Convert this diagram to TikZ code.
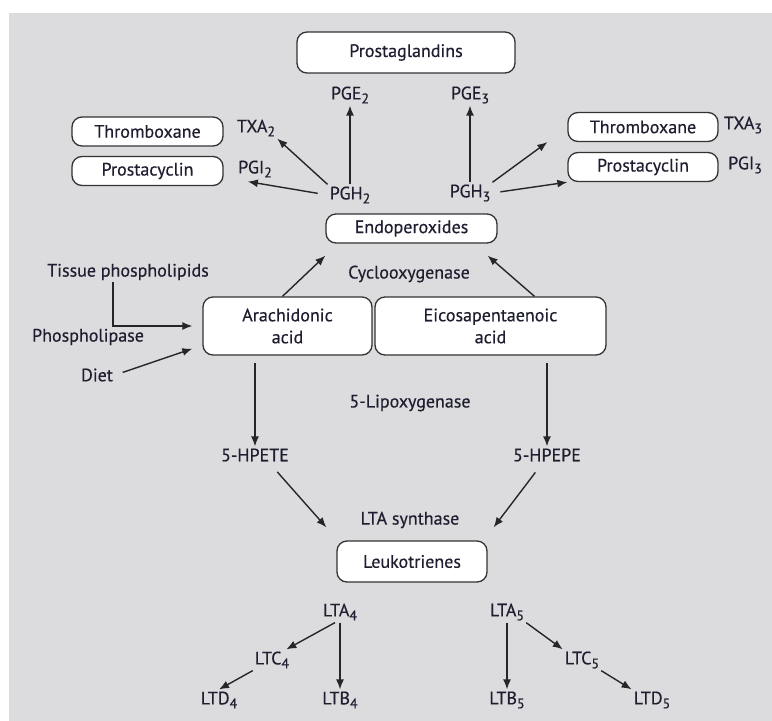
\documentclass[tikz,border=0pt]{standalone}
\usepackage{fontspec}
\setmainfont{PT Sans}[FakeBold=0.4]
\usetikzlibrary{arrows.meta}
\definecolor{nen}{RGB}{220,220,222}
\definecolor{chu}{RGB}{30,30,48}
\newcommand{\chiso}[1]{\raisebox{-4pt}{\fontsize{14}{14}\selectfont#1}}
\begin{document}
\begin{tikzpicture}[x=1pt,y=-1pt,font=\fontsize{18}{22}\selectfont,text=chu]
	\tikzset{s/.style={draw=black!80,fill=white,line width=1.3pt,rectangle,rounded corners=10pt,minimum height=29pt,inner sep=0pt},
		t/.style={inner sep=2pt},
		mt/.style={-{Latex[length=10pt,width=8pt]},line width=1.4pt,black!85}}
	\useasboundingbox(0,0)rectangle(772,721);
	\fill[nen](9,13)rectangle(772,721);
	%%Các hộp
	\node[s,minimum width=218pt,minimum height=41pt](PG)at(406,52.5){Prostaglandins};
	\node[s,minimum width=151pt](TXl)at(147.5,131.5){Thromboxane};
	\node[s,minimum width=151pt](PCl)at(147.5,171){Prostacyclin};
	\node[s,minimum width=150pt](TXr)at(643,127){Thromboxane};
	\node[s,minimum width=150pt](PCr)at(643,167){Prostacyclin};
	\node[s,minimum width=171pt](EN)at(411.5,228.5){Endoperoxides};
	\node[s,minimum width=169pt,minimum height=58pt,align=center](AA)at(287.5,326){Arachidonic\\acid};
	\node[s,minimum width=231pt,minimum height=58pt,align=center](EPA)at(490.5,326){Eicosapentaenoic\\acid};
	\node[s,minimum width=150pt,minimum height=41pt](LT)at(412,561.5){Leukotrienes};
	%%Chữ
	\path(350,95)node[t](PGE2){PGE\chiso{2}}(470,95)node[t](PGE3){PGE\chiso{3}}
		(350,195)node[t](PGH2){PGH\chiso{2}}(470,193)node[t](PGH3){PGH\chiso{3}}
		(256,128)node[t](TXA2){TXA\chiso{2}}(255,169)node[t](PGI2){PGI\chiso{2}}
		(743,125)node[t](TXA3){TXA\chiso{3}}(745,165)node[t](PGI3){PGI\chiso{3}};
	\path(128,272)node[t](TP){Tissue phospholipids}(88,337)node[t](PL){Phospholipase}(97,375)node[t](Diet){Diet}
		(409,274)node[t](COX){Cyclooxygenase}(410,403)node[t](LOX){5-Lipoxygenase}
		(255,455)node[t](HPETE){5-HPETE}(547,455)node[t](HPEPE){5-HPEPE}(410,520)node[t](LTAS){LTA synthase};
	\path(340,612)node[t](LTA4){LTA\chiso{4}}(507,612)node[t](LTA5){LTA\chiso{5}}
		(272,660)node[t](LTC4){LTC\chiso{4}}(582,660)node[t](LTC5){LTC\chiso{5}}
		(219,700)node[t](LTD4){LTD\chiso{4}}(340,700)node[t](LTB4){LTB\chiso{4}}
		(507,700)node[t](LTB5){LTB\chiso{5}}(652,700)node[t](LTD5){LTD\chiso{5}};
	%%Mũi tên
	\foreach \x/\y in {
		PGH2.north/PGE2.south,PGH3.north/PGE3.south,
		PGH2.north west/TXA2.south east,
		LTA4.south/LTB4.north,LTA5.south/LTB5.north,
		LTC4.south west/LTD4.north,
		LTA5.south east/LTC5.north west,LTC5.south east/LTD5.north west}
	\draw[mt](\x)--(\y);
	\draw[mt,shorten <=10pt,shorten >=12pt](PGH2.west)--(PGI2.south west);
	\draw[mt](PGH3.north east)--([xshift=-20pt]TXr.south west);
	\draw[mt,shorten <=8pt](PGH3.east)--(PCr.south west);
	\draw[mt]([xshift=-5pt]AA.north)--([yshift=-12pt]EN.south west);
	\draw[mt]([xshift=44pt]EPA.north)--([xshift=-10pt,yshift=-12pt]EN.south east);
	\draw[mt]([xshift=-15pt]TP.south)|-([xshift=-10pt]AA.west);
	\draw[mt,shorten <=8pt](Diet.east)--([xshift=-10pt,yshift=7pt]AA.south west);
	\draw[mt,shorten <=7pt](AA.south-|HPETE)--(HPETE.north);
	\draw[mt,shorten <=7pt](EPA.south-|HPEPE)--(HPEPE.north);
	\draw[mt,shorten <=11pt]([xshift=15pt]HPETE.south)--([xshift=-10pt,yshift=13pt]LT.north west);
	\draw[mt,shorten <=11pt]([xshift=-5pt]HPEPE.south)--([xshift=6pt,yshift=13pt]LT.north east);
	\draw[mt]([xshift=-5pt]LTA4.south)--([xshift=-5pt]LTC4.north east);
\end{tikzpicture}
\end{document}
